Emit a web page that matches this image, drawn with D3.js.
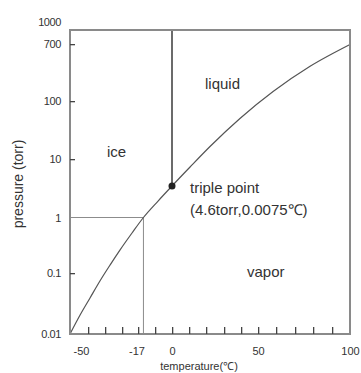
<!DOCTYPE html>
<html>
<head>
<meta charset="utf-8">
<script src="https://cdn.jsdelivr.net/npm/d3@7"></script>
<style>
  body { margin: 0; background: #fff; }
  svg text { font-family: "Liberation Sans", Arial, sans-serif; }
</style>
</head>
<body>
<svg id="chart" width="361" height="373"></svg>
<script>
// vapor pressure curve (temperature in C, pressure in torr)
const curveTemps = [-60, -54.4, -48.8, -42.9, -36.9, -31, -23.8, -17, -8.3, 0, 10.5, 22.1, 39.5, 58.2, 78.3, 100];
const curvePress = [0.01, 0.0205, 0.039, 0.074, 0.139, 0.259, 0.526, 1, 2.22, 4.6, 7.94, 16.4, 49.9, 138, 327, 688];

const triplePoint = { t: 0, p: 4.6 };
const refPoint = { t: -17, p: 1 };

const xTickLabels = [-50, -17, 0, 50, 100];
const xMinorTicks = [-50, -40, -30, -20, -10, 0, 10, 20, 30, 40, 50, 60, 70, 80, 90];
const yTickLabels = [0.01, 0.1, 1, 10, 100, 700, 1000];
const yMinorTicks = [0.1, 10, 100, 700];

const regionLabels = [
  { text: 'ice', t: -38.7, p: 10.8 },
  { text: 'liquid', t: 19.2, p: 153 },
  { text: 'vapor', t: 43.6, p: 0.086 }
];

const svg = d3.select('#chart');

// the drawing is schematic, so both scales are piecewise
const x = d3.scaleLinear()
  .domain([-60, -50, 0, 50, 100])
  .range([70, 88, 172, 258, 350]);

const y = d3.scaleLog()
  .domain([0.01, 0.1, 1, 4.6, 10, 100, 700, 1000])
  .range([334, 273, 217.5, 186, 159, 101, 44, 30]);

const plotLeft = x(-60), plotRight = x(100), plotTop = y(1000), plotBottom = y(0.01);

// guide lines at -17 C / 1 torr
svg.append('line')
  .attr('x1', plotLeft).attr('x2', x(refPoint.t))
  .attr('y1', y(refPoint.p)).attr('y2', y(refPoint.p))
  .attr('stroke', '#8c8c8c').attr('stroke-width', 1);
svg.append('line')
  .attr('x1', x(refPoint.t)).attr('x2', x(refPoint.t))
  .attr('y1', y(refPoint.p)).attr('y2', plotBottom)
  .attr('stroke', '#8c8c8c').attr('stroke-width', 1);

// solid / liquid boundary
svg.append('line')
  .attr('x1', x(triplePoint.t)).attr('x2', x(triplePoint.t))
  .attr('y1', y(triplePoint.p)).attr('y2', plotTop)
  .attr('stroke', '#3a3a3a').attr('stroke-width', 1.5);

// vapor pressure curve
const line = d3.line()
  .x(d => x(d[0]))
  .y(d => y(d[1]))
  .curve(d3.curveMonotoneX);

svg.append('path')
  .datum(curveTemps.map((t, i) => [t, curvePress[i]]))
  .attr('d', line)
  .attr('fill', 'none')
  .attr('stroke', '#555')
  .attr('stroke-width', 1.2);

// frame
svg.append('rect')
  .attr('x', plotLeft).attr('y', plotTop)
  .attr('width', plotRight - plotLeft).attr('height', plotBottom - plotTop)
  .attr('fill', 'none')
  .attr('stroke', '#8a8a8a')
  .attr('stroke-width', 2);

// minor ticks, pointing inwards (thin rects)
svg.append('g')
  .selectAll('rect')
  .data(xMinorTicks)
  .join('rect')
  .attr('x', d => Math.round(x(d)))
  .attr('y', plotBottom - 7)
  .attr('width', 1.3)
  .attr('height', 7)
  .attr('fill', '#444');

svg.append('g')
  .selectAll('rect')
  .data(yMinorTicks)
  .join('rect')
  .attr('x', plotLeft)
  .attr('y', d => Math.round(y(d)))
  .attr('width', 5)
  .attr('height', 1.3)
  .attr('fill', '#444');

// tick labels
svg.append('g')
  .attr('transform', 'translate(0,' + plotBottom + ')')
  .call(d3.axisBottom(x).tickValues(xTickLabels).tickSize(0).tickPadding(13)
    .tickFormat(d => d < 0 ? '-' + Math.abs(d) : d))
  .call(g => g.select('.domain').remove())
  .selectAll('text')
  .attr('dx', d => d < 0 ? -7 : 0)
  .attr('font-size', 11)
  .attr('fill', '#333');

svg.append('g')
  .attr('transform', 'translate(' + (plotLeft - 9) + ',0)')
  .call(d3.axisLeft(y).tickValues(yTickLabels).tickSize(0).tickPadding(0)
    .tickFormat(d => d))
  .call(g => g.select('.domain').remove())
  .selectAll('text')
  .attr('dy', d => d === 1000 ? '-0.42em' : '0.32em')
  .attr('font-size', 11)
  .attr('letter-spacing', -0.4)
  .attr('fill', '#333');

// triple point
svg.append('circle')
  .attr('cx', x(triplePoint.t)).attr('cy', y(triplePoint.p))
  .attr('r', 3.5)
  .attr('fill', '#222');

svg.append('text')
  .attr('x', x(triplePoint.t) + 18).attr('y', y(triplePoint.p) + 7)
  .attr('font-size', 15).attr('fill', '#333')
  .text('triple point');
svg.append('text')
  .attr('x', x(triplePoint.t) + 18).attr('y', y(triplePoint.p) + 29)
  .attr('font-size', 15).attr('fill', '#333')
  .text('(4.6torr,0.0075\u2103)');

// region labels
svg.selectAll('.region')
  .data(regionLabels)
  .enter()
  .append('text')
  .attr('class', 'region')
  .attr('x', d => x(d.t)).attr('y', d => y(d.p))
  .attr('font-size', 15).attr('fill', '#333')
  .text(d => d.text);

// axis titles
svg.append('text')
  .attr('transform', 'translate(23,' + ((plotTop + plotBottom) / 2 + 2) + ')rotate(-90)')
  .attr('text-anchor', 'middle')
  .attr('font-size', 14).attr('fill', '#333')
  .text('pressure (torr)');

svg.append('text')
  .attr('x', 199).attr('y', 370)
  .attr('text-anchor', 'middle')
  .attr('font-size', 11).attr('fill', '#333')
  .text('temperature(\u2103)');
</script>
</body>
</html>
